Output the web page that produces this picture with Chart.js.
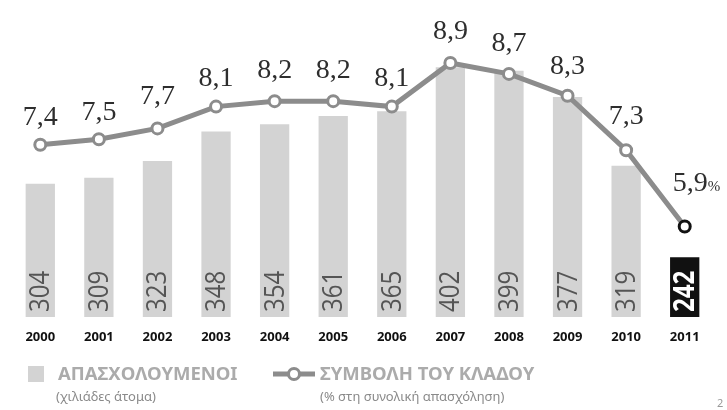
<!DOCTYPE html>
<html>
<head>
<meta charset="utf-8">
<script src="https://cdn.jsdelivr.net/npm/chart.js@4.4.1/dist/chart.umd.min.js"></script>
<style>
  html, body { margin: 0; padding: 0; background: #fff; }
  #wrap { width: 727px; height: 410px; position: relative; }
</style>
</head>
<body>
<div id="wrap"><canvas id="myChart" width="727" height="410"></canvas></div>
<script>
let years = ["2000","2001","2002","2003","2004","2005","2006","2007","2008","2009","2010","2011"]
let employed = [304, 309, 323, 348, 354, 361, 365, 402, 399, 377, 319, 242]
let share = [7.4, 7.5, 7.7, 8.1, 8.2, 8.2, 8.1, 8.9, 8.7, 8.3, 7.3, 5.9]

let barColors = employed.map((v, i) => i == employed.length - 1 ? "#111111" : "#d3d3d3")
let pointBorders = share.map((v, i) => i == share.length - 1 ? "#111111" : "#8c8c8c")

// value labels for the bars and the line, plus the legend under the axis
let labelsPlugin = {
    id: "labels",
    afterDatasetsDraw(chart) {
        let ctx = chart.ctx
        let barMeta = chart.getDatasetMeta(1)
        let lineMeta = chart.getDatasetMeta(0)
        let bottom = chart.chartArea.bottom

        barMeta.data.forEach((bar, i) => {
            let last = i == employed.length - 1
            ctx.save()
            ctx.translate(bar.x, bottom - 5)
            ctx.rotate(-Math.PI / 2)
            ctx.scale(0.86, 1)
            ctx.font = (last ? "bold " : "") + "28px 'Open Sans', sans-serif"
            ctx.fillStyle = last ? "#ffffff" : "#555555"
            ctx.textAlign = "left"
            ctx.textBaseline = "middle"
            ctx.fillText(String(employed[i]), 0, 1)
            ctx.restore()
        })

        lineMeta.data.forEach((pt, i) => {
            let txt = String(share[i]).replace(".", ",")
            ctx.save()
            ctx.font = "28px 'Liberation Serif', serif"
            ctx.fillStyle = "#2e2e2e"
            ctx.textBaseline = "middle"
            if (i == share.length - 1) {
                ctx.textAlign = "left"
                ctx.fillText(txt, pt.x - 12, pt.y - 43)
                let w = ctx.measureText(txt).width
                ctx.font = "15px 'Liberation Serif', serif"
                ctx.fillText("%", pt.x - 12 + w, pt.y - 39)
            } else {
                ctx.textAlign = "center"
                let off = [27, 27, 32, 28, 31, 31, 28, 31, 30, 29, 34][i]
                ctx.fillText(txt, pt.x, pt.y - off)
            }
            ctx.restore()
        })

        // legend
        ctx.save()
        ctx.fillStyle = "#d3d3d3"
        ctx.fillRect(28, 366, 16, 16)
        ctx.font = "bold 18.5px 'Noto Sans', sans-serif"
        ctx.fillStyle = "#ababab"
        ctx.textBaseline = "middle"
        ctx.textAlign = "left"
        ctx.fillText("ΑΠΑΣΧΟΛΟΥΜΕΝΟΙ", 58, 375)
        ctx.fillText("ΣΥΜΒΟΛΗ ΤΟΥ ΚΛΑΔΟΥ", 320, 375)
        ctx.font = "13px 'Noto Sans', sans-serif"
        ctx.fillStyle = "#8a8a8a"
        ctx.fillText("(χιλιάδες άτομα)", 56, 397)
        ctx.fillText("(% στη συνολική απασχόληση)", 320, 397)

        ctx.strokeStyle = "#8c8c8c"
        ctx.lineWidth = 5
        ctx.beginPath()
        ctx.moveTo(273, 374)
        ctx.lineTo(315, 374)
        ctx.stroke()
        ctx.beginPath()
        ctx.arc(294, 374, 5.5, 0, Math.PI * 2)
        ctx.fillStyle = "#fff"
        ctx.fill()
        ctx.lineWidth = 3
        ctx.stroke()

        ctx.font = "11px 'Noto Sans', sans-serif"
        ctx.fillStyle = "#999"
        ctx.fillText("2", 717, 404)
        ctx.restore()
    }
}

new Chart(document.getElementById("myChart"), {
    type: "bar",
    data: {
        labels: years,
        datasets: [{
            type: "line",
            label: "ΣΥΜΒΟΛΗ ΤΟΥ ΚΛΑΔΟΥ",
            data: share,
            yAxisID: "y1",
            borderColor: "#8c8c8c",
            borderWidth: 5,
            pointRadius: 5.5,
            pointBorderWidth: 3,
            pointBackgroundColor: "#ffffff",
            pointBorderColor: pointBorders,
            tension: 0,
            order: 1
        }, {
            type: "bar",
            label: "ΑΠΑΣΧΟΛΟΥΜΕΝΟΙ",
            data: employed,
            yAxisID: "y",
            backgroundColor: barColors,
            barPercentage: 0.5,
            categoryPercentage: 1,
            order: 2
        }]
    },
    options: {
        responsive: false,
        animation: false,
        layout: { padding: { left: 11, right: 13, top: 0, bottom: 0 } },
        plugins: {
            legend: { display: false },
            tooltip: { enabled: false }
        },
        scales: {
            x: {
                grid: { display: false, drawTicks: false },
                border: { display: false },
                ticks: {
                    padding: 12,
                    color: "#111111",
                    font: { family: "'Noto Sans', sans-serif", size: 13, weight: "bold" }
                },
                afterFit(scale) { scale.height = 93 }
            },
            y: {
                display: false,
                min: 191.7,
                max: 451.5
            },
            y1: {
                display: false,
                min: 4.24,
                max: 9.9
            }
        }
    },
    plugins: [labelsPlugin]
});
</script>
</body>
</html>
